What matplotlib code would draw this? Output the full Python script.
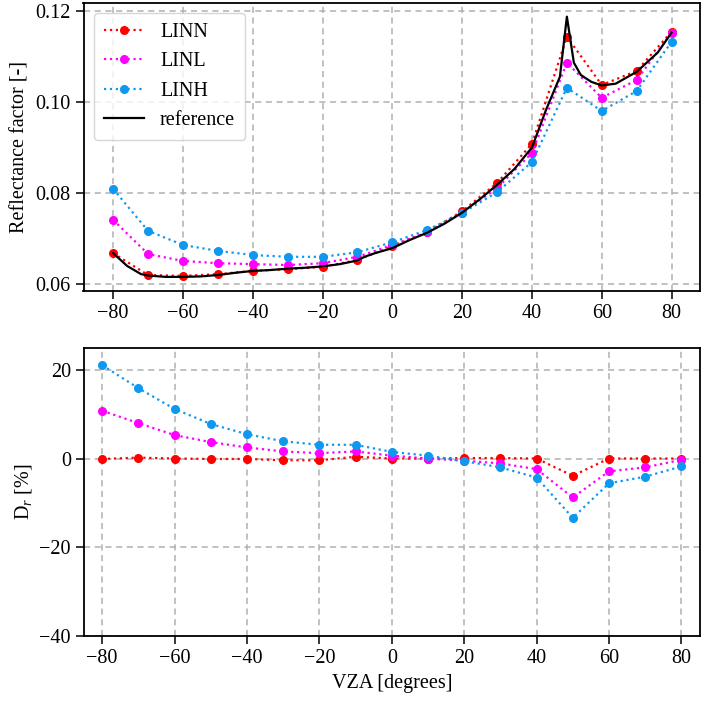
import numpy as np
import matplotlib
matplotlib.use("Agg")
import matplotlib.pyplot as plt

plt.rcParams['font.family'] = ['Liberation Serif', 'DejaVu Serif']
plt.rcParams['mathtext.fontset'] = 'custom'
plt.rcParams['mathtext.rm'] = 'Liberation Serif'
plt.rcParams['mathtext.it'] = 'Liberation Serif:italic'
plt.rcParams['font.size'] = 14.5

# angles of the model runs
vza = [-80, -70, -60, -50, -40, -30, -20, -10, 0, 10, 20, 30, 40, 50, 60, 70, 80]

# reflectance factor
linn = [0.0668, 0.0620, 0.0618, 0.0622, 0.0629, 0.0633, 0.0638, 0.0653, 0.0683,
        0.0714, 0.0760, 0.0822, 0.0908, 0.1143, 0.1037, 0.1068, 0.1154]
linl = [0.0741, 0.0666, 0.0651, 0.0646, 0.0644, 0.0642, 0.0646, 0.0660, 0.0686,
        0.0714, 0.0757, 0.0811, 0.0888, 0.1086, 0.1009, 0.1048, 0.1152]
linh = [0.0809, 0.0717, 0.0686, 0.0673, 0.0664, 0.0660, 0.0660, 0.0670, 0.0692,
        0.0719, 0.0756, 0.0802, 0.0868, 0.1031, 0.0980, 0.1024, 0.1132]

# reference curve (finer sampling)
vza_ref = [-80, -76, -72, -70, -65, -60, -55, -50, -45, -40, -35, -30, -25, -20,
           -15, -10, -8, -5, 0, 5, 10, 15, 20, 25, 30, 35, 40, 44, 48, 50, 52,
           54, 57, 60, 64, 70, 76, 80]
ref = [0.0668, 0.0640, 0.0622, 0.0619, 0.0616, 0.0616, 0.0617, 0.0620, 0.0625,
       0.0629, 0.0631, 0.0634, 0.0636, 0.0639, 0.0644, 0.0652, 0.0660, 0.0668,
       0.0679, 0.0697, 0.0713, 0.0733, 0.0757, 0.0786, 0.0818, 0.0853, 0.0900,
       0.0982, 0.1055, 0.1187, 0.1086, 0.1059, 0.1044, 0.1036, 0.1040, 0.1066,
       0.1108, 0.1152]

# relative difference D_r [%]
d_linn = [0.0, 0.3, 0.1, 0.0, 0.0, -0.3, -0.3, 0.5, 0.1, 0.1, 0.2, 0.2, 0.1,
          -3.8, 0.1, 0.1, 0.1]
d_linl = [10.9, 8.1, 5.4, 3.8, 2.6, 1.7, 1.3, 1.7, 0.75, 0.1, -0.4, -1.0, -2.3,
          -8.7, -2.8, -1.9, -0.2]
d_linh = [21.2, 16.0, 11.3, 7.9, 5.6, 4.0, 3.2, 3.2, 1.6, 0.75, -0.5, -1.9, -4.2,
          -13.3, -5.5, -4.0, -1.7]

c_n = '#ff0000'
c_l = '#ff00ff'
c_h = '#0f98f0'

fig = plt.figure(figsize=(7.06, 7.01), dpi=100)
ax1 = fig.add_axes([83.5 / 706, 1 - 291 / 701, 616 / 706, 288 / 701])
ax2 = fig.add_axes([84 / 706, 1 - 636 / 701, 615.5 / 706, 287.7 / 701])

kw = dict(linestyle=':', marker='o', markersize=5.5, linewidth=1.6)
ax1.plot(vza, linn, color=c_n, label='LINN', **kw)
ax1.plot(vza, linl, color=c_l, label='LINL', **kw)
ax1.plot(vza, linh, color=c_h, label='LINH', **kw)
ax1.plot(vza_ref, ref, color='black', linewidth=1.6, label='reference')

ax2.plot(vza, d_linn, color=c_n, **kw)
ax2.plot(vza, d_linl, color=c_l, **kw)
ax2.plot(vza, d_linh, color=c_h, **kw)

ax1.set_xlim(-88.5, 88)
ax1.set_ylim(0.0585, 0.1217)
ax1.set_yticks([0.06, 0.08, 0.10, 0.12])
ax1.set_yticklabels(['0.06', '0.08', '0.10', '0.12'])
ax1.set_xticks(np.arange(-80, 81, 20))
ax1.set_ylabel('Reflectance factor [-]')

ax2.set_xlim(-85, 85)
ax2.set_ylim(-40, 25)
ax2.set_yticks([-40, -20, 0, 20])
ax2.set_xticks(np.arange(-80, 81, 20))
ax2.set_ylabel('D$_{r}$ [%]')
ax2.set_xlabel('VZA [degrees]')

for ax in (ax1, ax2):
    ax.grid(True, linestyle=(0, (4, 3)), color='#b0b0b0', linewidth=1.1)
    ax.tick_params(direction='out', length=6, width=1.1)
    for s in ax.spines.values():
        s.set_linewidth(1.3)

ax1.legend(loc='upper left', fontsize=14.5, handlelength=2.0, borderpad=0.5,
           labelspacing=0.5)

fig.align_ylabels([ax1, ax2])

plt.savefig('out.png', dpi=100)
